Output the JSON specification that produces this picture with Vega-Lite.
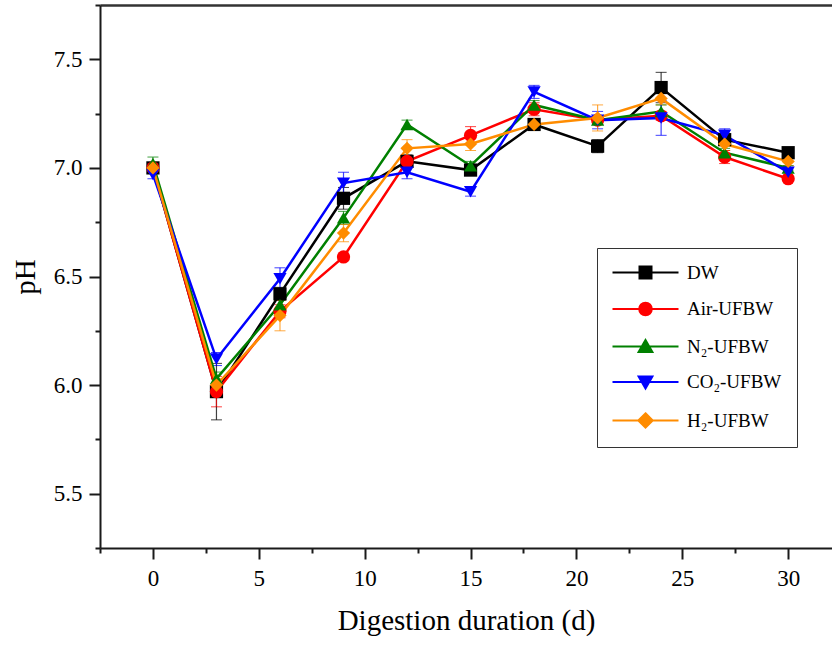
{
  "$schema": "https://vega.github.io/schema/vega-lite/v6.json",
  "width": 732,
  "height": 543,
  "autosize": {"type": "none"},
  "padding": {"left": 100, "top": 5, "right": 0, "bottom": 97},
  "background": "white",
  "config": {
    "view": {"stroke": null},
    "font": "Liberation Serif",
    "axis": {
      "labelFont": "Liberation Serif",
      "titleFont": "Liberation Serif",
      "labelColor": "black",
      "titleColor": "black",
      "domainColor": "#1a1a1a",
      "domainWidth": 2,
      "tickColor": "#1a1a1a",
      "tickWidth": 2,
      "grid": false,
      "labelFontSize": 23,
      "titleFontSize": 29,
      "titleFontWeight": "normal"
    },
    "legend": {
      "labelFont": "Liberation Serif",
      "labelFontSize": 19,
      "labelColor": "black"
    }
  },
  "data": {
    "values": [
      {"day": 0, "series": "DW", "ph": 7.00, "err": 0.02},
      {"day": 3, "series": "DW", "ph": 5.97, "err": 0.13},
      {"day": 6, "series": "DW", "ph": 6.42, "err": 0.03},
      {"day": 9, "series": "DW", "ph": 6.86, "err": 0.05},
      {"day": 12, "series": "DW", "ph": 7.03, "err": 0.03},
      {"day": 15, "series": "DW", "ph": 6.99, "err": 0.01},
      {"day": 18, "series": "DW", "ph": 7.20, "err": 0.02},
      {"day": 21, "series": "DW", "ph": 7.10, "err": 0.03},
      {"day": 24, "series": "DW", "ph": 7.37, "err": 0.07},
      {"day": 27, "series": "DW", "ph": 7.13, "err": 0.02},
      {"day": 30, "series": "DW", "ph": 7.07, "err": 0.01},
      {"day": 0, "series": "Air-UFBW", "ph": 7.00, "err": 0.02},
      {"day": 3, "series": "Air-UFBW", "ph": 5.97, "err": 0.07},
      {"day": 6, "series": "Air-UFBW", "ph": 6.34, "err": 0.03},
      {"day": 9, "series": "Air-UFBW", "ph": 6.59, "err": 0.01},
      {"day": 12, "series": "Air-UFBW", "ph": 7.03, "err": 0.02},
      {"day": 15, "series": "Air-UFBW", "ph": 7.15, "err": 0.04},
      {"day": 18, "series": "Air-UFBW", "ph": 7.27, "err": 0.03},
      {"day": 21, "series": "Air-UFBW", "ph": 7.22, "err": 0.02},
      {"day": 24, "series": "Air-UFBW", "ph": 7.24, "err": 0.02},
      {"day": 27, "series": "Air-UFBW", "ph": 7.05, "err": 0.03},
      {"day": 30, "series": "Air-UFBW", "ph": 6.95, "err": 0.01},
      {"day": 0, "series": "N₂-UFBW", "ph": 7.02, "err": 0.03},
      {"day": 3, "series": "N₂-UFBW", "ph": 6.03, "err": 0.03},
      {"day": 6, "series": "N₂-UFBW", "ph": 6.37, "err": 0.03},
      {"day": 9, "series": "N₂-UFBW", "ph": 6.77, "err": 0.03},
      {"day": 12, "series": "N₂-UFBW", "ph": 7.20, "err": 0.02},
      {"day": 15, "series": "N₂-UFBW", "ph": 7.01, "err": 0.02},
      {"day": 18, "series": "N₂-UFBW", "ph": 7.29, "err": 0.02},
      {"day": 21, "series": "N₂-UFBW", "ph": 7.22, "err": 0.02},
      {"day": 24, "series": "N₂-UFBW", "ph": 7.26, "err": 0.03},
      {"day": 27, "series": "N₂-UFBW", "ph": 7.07, "err": 0.02},
      {"day": 30, "series": "N₂-UFBW", "ph": 7.00, "err": 0.01},
      {"day": 0, "series": "CO₂-UFBW", "ph": 6.97, "err": 0.02},
      {"day": 3, "series": "CO₂-UFBW", "ph": 6.12, "err": 0.03},
      {"day": 6, "series": "CO₂-UFBW", "ph": 6.49, "err": 0.05},
      {"day": 9, "series": "CO₂-UFBW", "ph": 6.93, "err": 0.05},
      {"day": 12, "series": "CO₂-UFBW", "ph": 6.98, "err": 0.03},
      {"day": 15, "series": "CO₂-UFBW", "ph": 6.89, "err": 0.02},
      {"day": 18, "series": "CO₂-UFBW", "ph": 7.35, "err": 0.03},
      {"day": 21, "series": "CO₂-UFBW", "ph": 7.22, "err": 0.04},
      {"day": 24, "series": "CO₂-UFBW", "ph": 7.23, "err": 0.08},
      {"day": 27, "series": "CO₂-UFBW", "ph": 7.15, "err": 0.03},
      {"day": 30, "series": "CO₂-UFBW", "ph": 6.98, "err": 0.02},
      {"day": 0, "series": "H₂-UFBW", "ph": 7.00, "err": 0.02},
      {"day": 3, "series": "H₂-UFBW", "ph": 6.00, "err": 0.03},
      {"day": 6, "series": "H₂-UFBW", "ph": 6.32, "err": 0.07},
      {"day": 9, "series": "H₂-UFBW", "ph": 6.70, "err": 0.04},
      {"day": 12, "series": "H₂-UFBW", "ph": 7.09, "err": 0.04},
      {"day": 15, "series": "H₂-UFBW", "ph": 7.11, "err": 0.03},
      {"day": 18, "series": "H₂-UFBW", "ph": 7.20, "err": 0.02},
      {"day": 21, "series": "H₂-UFBW", "ph": 7.23, "err": 0.06},
      {"day": 24, "series": "H₂-UFBW", "ph": 7.32, "err": 0.03},
      {"day": 27, "series": "H₂-UFBW", "ph": 7.11, "err": 0.03},
      {"day": 30, "series": "H₂-UFBW", "ph": 7.03, "err": 0.02}
    ]
  },
  "layer": [
    {
      "mark": {"type": "errorbar", "ticks": {"size": 11, "opacity": 0.75}, "rule": {"strokeWidth": 1.2, "opacity": 0.75}},
      "encoding": {
        "x": {"field": "day", "type": "quantitative", "scale": {"domain": [-2.5, 32.07], "nice": false, "zero": false}, "axis": null},
        "y": {"field": "ph", "type": "quantitative", "scale": {"domain": [5.25, 7.75], "nice": false, "zero": false}, "axis": null},
        "yError": {"field": "err"},
        "color": {"field": "series", "type": "nominal",
          "scale": {"domain": ["DW", "Air-UFBW", "N₂-UFBW", "CO₂-UFBW", "H₂-UFBW"], "range": ["#000000", "#ff0000", "#008000", "#0000ff", "#ff8c00"]}}
      }
    },
    {
      "mark": {"type": "line", "strokeWidth": 2.5},
      "encoding": {
        "x": {"field": "day", "type": "quantitative",
          "axis": {"orient": "top", "labels": false, "ticks": false, "title": null, "domainWidth": 2.5, "domainColor": "#333333"}},
        "y": {"field": "ph", "type": "quantitative", "axis": null},
        "color": {"field": "series", "type": "nominal"}
      }
    },
    {
      "mark": {"type": "point", "filled": true, "size": 175, "opacity": 1, "strokeWidth": 1},
      "encoding": {
        "x": {"field": "day", "type": "quantitative",
          "axis": {
            "title": "Digestion duration (d)",
            "values": [-2.5, 0, 2.5, 5, 7.5, 10, 12.5, 15, 17.5, 20, 22.5, 25, 27.5, 30],
            "tickSize": {"condition": {"test": "datum.value % 5 === 0", "value": 11}, "value": 5},
            "labelExpr": "datum.value % 5 === 0 ? datum.label : ''",
            "labelPadding": 8,
            "titlePadding": 16,
            "labelFlush": false
          }},
        "y": {"field": "ph", "type": "quantitative",
          "axis": {
            "title": "pH",
            "values": [5.25, 5.5, 5.75, 6, 6.25, 6.5, 6.75, 7, 7.25, 7.5, 7.75],
            "format": ".1f",
            "tickSize": {"condition": {"test": "abs(datum.value*2 - round(datum.value*2)) < 0.001", "value": 11}, "value": 5},
            "labelExpr": "abs(datum.value*2 - round(datum.value*2)) < 0.001 ? datum.label : ''",
            "labelPadding": 7,
            "titlePadding": 13,
            "labelFlush": false
          }},
        "color": {"field": "series", "type": "nominal",
          "legend": {
            "title": null,
            "orient": "none",
            "legendX": 497,
            "legendY": 243,
            "padding": 15,
            "strokeColor": "#333333",
            "fillColor": "white",
            "symbolSize": 144,
            "symbolStrokeWidth": 2,
            "symbolOpacity": 1,
            "symbolOffset": 24,
            "labelOffset": 32,
            "rowPadding": 15.5,
            "encode": {
              "symbols": {
                "update": {
                  "opacity": {"value": 1},
                  "shape": {"signal": "datum.value === 'DW' ? 'M-5.5,0H5.5M-1,-1H1V1H-1Z' : datum.value === 'Air-UFBW' ? 'M-5.5,0H5.5M1.05,0A1.05,1.05,0,1,1,-1.05,0A1.05,1.05,0,1,1,1.05,0Z' : datum.value === 'N₂-UFBW' ? 'M-5.5,0H5.5M0,-1.1L1.15,0.9L-1.15,0.9Z' : datum.value === 'CO₂-UFBW' ? 'M-5.5,0H5.5M0,1.1L1.15,-0.9L-1.15,-0.9Z' : 'M-5.5,0H5.5M0,-1.2L1.2,0L0,1.2L-1.2,0Z'"}
                }
              }
            }
          }},
        "shape": {"field": "series", "type": "nominal", "legend": null,
          "scale": {"domain": ["H₂-UFBW", "DW", "Air-UFBW", "N₂-UFBW", "CO₂-UFBW"], "range": ["diamond", "square", "circle", "triangle-up", "triangle-down"]}}
      }
    }
  ],
  "resolve": {"axis": {"x": "independent", "y": "independent"}}
}
